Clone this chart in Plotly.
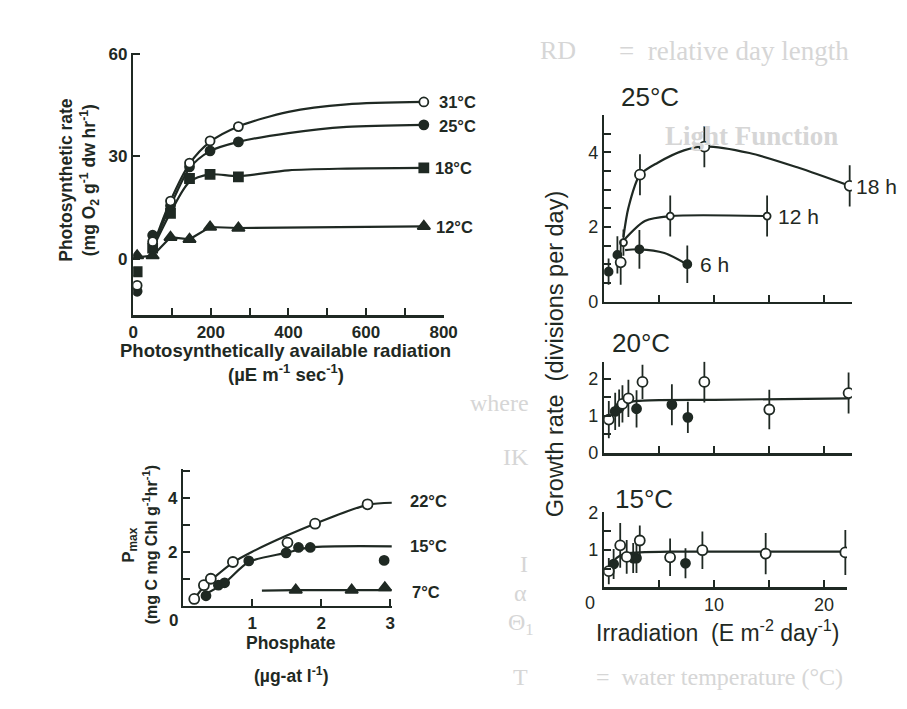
import plotly.graph_objects as go

W, H = 907, 709
INK = '#1f2923'
GHOST = '#d6d6d6'
FONT = 'Liberation Sans'

# ---------------- Panel A: photosynthesis vs radiation ----------------
A_x = [10, 50, 96, 145, 198, 271, 749]
A_31 = [-7.8, 5.0, 16.9, 28.0, 34.5, 38.7, 45.9]
A_25 = [-9.5, 6.9, 15.5, 26.9, 31.6, 34.2, 39.2]
A_18 = [-3.8, 3.1, 13.3, 23.5, 24.7, 24.0, 26.6]
A_12 = [0.9, 0.9, 6.3, 5.7, 9.3, 9.0, 9.5]
A_fit_x = [50, 96, 145, 198, 271, 400, 550, 749]
A_fit_31 = [3.5, 17.0, 27.8, 34.2, 38.7, 43.0, 45.2, 45.9]
A_fit_25 = [3.5, 15.5, 26.5, 31.5, 34.2, 36.8, 38.6, 39.2]
A_fit_18 = [3.0, 13.5, 22.5, 24.7, 24.2, 25.9, 26.4, 26.6]
A_fit12_x = [0, 50, 96, 145, 198, 271, 749]
A_fit_12 = [0.3, 0.9, 6.3, 5.7, 9.3, 9.0, 9.5]
A_xticks = [0, 200, 400, 600, 800]
A_xminor = [100, 300, 500, 700]
A_yticks = [0, 30, 60]

# ---------------- Panel B: Pmax vs phosphate ----------------
B22_x = [0.16, 0.30, 0.40, 0.72, 1.51, 1.91, 2.67]
B22_y = [0.25, 0.76, 1.00, 1.62, 2.34, 3.04, 3.76]
B15_x = [0.33, 0.51, 0.60, 0.95, 1.49, 1.67, 1.84, 2.91]
B15_y = [0.37, 0.76, 0.85, 1.66, 1.96, 2.16, 2.16, 1.68]
B7_x = [1.63, 2.44, 2.92]
B7_y = [0.58, 0.58, 0.67]
B22_fit_x = [0.16, 0.30, 0.45, 0.72, 1.0, 1.5, 1.91, 2.67, 3.1]
B22_fit_y = [0.25, 0.70, 1.05, 1.60, 2.00, 2.60, 3.04, 3.74, 3.82]
B15_fit_x = [0.30, 0.60, 0.95, 1.49, 1.84, 3.1]
B15_fit_y = [0.40, 0.85, 1.62, 1.96, 2.16, 2.20]
B7_fit_x = [1.14, 1.63, 2.44, 2.92, 3.1]
B7_fit_y = [0.56, 0.58, 0.58, 0.60, 0.58]

# ---------------- Panel C: growth at 25 C ----------------
C18_x = [1.5, 3.25, 9.1, 22.3]
C18_y = [1.05, 3.4, 4.15, 3.1]
C18_e = [0.6, 0.55, 0.55, 0.55]
C12_x = [1.75, 6.0, 14.8]
C12_y = [1.58, 2.29, 2.29]
C12_e = [0.35, 0.55, 0.55]
C6_x = [0.4, 1.2, 3.2, 7.55]
C6_y = [0.8, 1.25, 1.4, 1.0]
C6_e = [0.35, 0.5, 0.52, 0.5]
C18_fit_x = [1.75, 2.2, 3.24, 4.87, 7.25, 9.09, 13.2, 17.6, 22.3]
C18_fit_y = [1.73, 2.51, 3.39, 3.72, 4.05, 4.16, 3.98, 3.59, 3.10]
C12_fit_x = [1.8, 3.7, 6.0, 14.8]
C12_fit_y = [1.65, 2.16, 2.29, 2.29]
C6_fit_x = [1.9, 3.18, 5.47, 7.55]
C6_fit_y = [1.38, 1.40, 1.30, 0.99]

# ---------------- Panel D: growth at 20 C ----------------
D_open_x = [0.42, 1.66, 2.2, 3.48, 9.1, 15.0, 22.2]
D_open_y = [0.90, 1.32, 1.47, 1.91, 1.91, 1.17, 1.61]
D_open_e = [0.5, 0.5, 0.5, 0.46, 0.55, 0.53, 0.55]
D_fill_x = [1.0, 1.36, 2.94, 6.15, 7.6]
D_fill_y = [1.12, 1.21, 1.19, 1.30, 0.96]
D_fill_e = [0.5, 0.5, 0.5, 0.55, 0.42]
D_fit_x = [0.42, 1.0, 1.66, 2.2, 2.94, 3.5, 5.0, 10.0, 22.3]
D_fit_y = [0.85, 1.10, 1.28, 1.37, 1.40, 1.41, 1.42, 1.43, 1.47]

# ---------------- Panel E: growth at 15 C ----------------
E_open_x = [0.42, 1.46, 2.05, 3.24, 6.0, 8.94, 14.7, 21.95]
E_open_y = [0.43, 1.12, 0.81, 1.25, 0.80, 0.99, 0.90, 0.93]
E_open_e = [0.35, 0.6, 0.45, 0.4, 0.5, 0.5, 0.55, 0.6]
E_fill_x = [0.86, 2.64, 2.94, 7.4]
E_fill_y = [0.62, 0.78, 0.78, 0.64]
E_fill_e = [0.4, 0.4, 0.4, 0.4]
E_fit_x = [0.42, 0.86, 1.46, 2.05, 3.24, 6.0, 22.0]
E_fit_y = [0.42, 0.70, 0.85, 0.90, 0.93, 0.95, 0.95]

fig = go.Figure()

def line(x, y, ax, shape='spline'):
    fig.add_trace(go.Scatter(x=x, y=y, mode='lines', xaxis=ax[0], yaxis=ax[1],
                             line=dict(color=INK, width=2.2, shape=shape, smoothing=0.8),
                             hoverinfo='skip', showlegend=False))

def pts(x, y, ax, symbol='circle', filled=True, size=9, err=None):
    kw = {}
    if err is not None:
        kw['error_y'] = dict(type='data', array=err, visible=True, color=INK, thickness=1.8, width=0)
    fig.add_trace(go.Scatter(x=x, y=y, mode='markers', xaxis=ax[0], yaxis=ax[1],
                             marker=dict(symbol=symbol, size=size,
                                         color=INK if filled else 'white',
                                         line=dict(color=INK, width=1.8)),
                             showlegend=False, **kw))

# Panel A
axA = ('x', 'y')
line(A_fit_x, A_fit_31, axA)
line(A_fit_x, A_fit_25, axA)
line(A_fit_x, A_fit_18, axA)
line(A_fit12_x, A_fit_12, axA, shape='linear')
pts(A_x, A_12, axA, 'triangle-up', True, 11)
pts(A_x, A_18, axA, 'square', True, 9)
pts(A_x, A_25, axA, 'circle', True, 9)
pts(A_x, A_31, axA, 'circle', False, 9)

# Panel B
axB = ('x2', 'y2')
line(B22_fit_x, B22_fit_y, axB)
line(B15_fit_x, B15_fit_y, axB)
line(B7_fit_x, B7_fit_y, axB, shape='linear')
pts(B7_x, B7_y, axB, 'triangle-up', True, 11)
pts(B15_x, B15_y, axB, 'circle', True, 9)
pts(B22_x, B22_y, axB, 'circle', False, 10)

# Panel C
axC = ('x3', 'y3')
line(C18_fit_x, C18_fit_y, axC)
line(C12_fit_x, C12_fit_y, axC)
line(C6_fit_x, C6_fit_y, axC)
pts(C6_x, C6_y, axC, 'circle', True, 8, C6_e)
pts(C12_x, C12_y, axC, 'circle', False, 7, C12_e)
pts(C18_x, C18_y, axC, 'circle', False, 10, C18_e)

# Panel D
axD = ('x4', 'y4')
line(D_fit_x, D_fit_y, axD)
pts(D_fill_x, D_fill_y, axD, 'circle', True, 9, D_fill_e)
pts(D_open_x, D_open_y, axD, 'circle', False, 10, D_open_e)

# Panel E
axE = ('x5', 'y5')
line(E_fit_x, E_fit_y, axE)
pts(E_fill_x, E_fill_y, axE, 'circle', True, 9, E_fill_e)
pts(E_open_x, E_open_y, axE, 'circle', False, 10, E_open_e)


def dom_x(a, b):
    return [a / W, b / W]

def dom_y(top, bottom):
    return [1 - bottom / H, 1 - top / H]

def axis(domain, rng, anchor, tickvals=None, ticktext=None, minor=None, labels=True, size=16, bold=False):
    d = dict(domain=domain, range=rng, anchor=anchor, showline=True, linecolor=INK, linewidth=2.4,
             showgrid=False, zeroline=False, ticks='inside', ticklen=7, tickwidth=2, tickcolor=INK,
             showticklabels=labels, tickfont=dict(family=FONT, size=size, color=INK,
                                                  weight='bold' if bold else 'normal'),
             fixedrange=True)
    if tickvals is not None:
        d['tickmode'] = 'array'
        d['tickvals'] = tickvals
        if ticktext is not None:
            d['ticktext'] = ticktext
    if minor is not None:
        d['minor'] = dict(tickvals=minor, ticks='inside', ticklen=7, tickwidth=2, tickcolor=INK)
    return d

layout = dict(
    width=W, height=H, autosize=False,
    margin=dict(l=0, r=0, t=0, b=0),
    paper_bgcolor='white', plot_bgcolor='rgba(0,0,0,0)',
    showlegend=False,
    # Panel A
    xaxis=axis(dom_x(131, 448), [0, 800], 'y', A_xticks, None, A_xminor, size=17, bold=True),
    yaxis=axis(dom_y(44, 314), [-16.5, 60.3], 'x', A_yticks, size=17, bold=True),
    # Panel B
    xaxis2=axis(dom_x(182, 395), [0, 3.02], 'y2', [1, 2, 3], size=17, bold=True),
    yaxis2=axis(dom_y(472, 613), [0, 5.08], 'x2', [2, 4], None, [1, 3, 5], size=17, bold=True),
    # Panel C
    xaxis3=axis(dom_x(612, 865), [0, 22.5], 'y3', [5, 10, 15, 20], labels=False),
    yaxis3=axis(dom_y(108, 300), [0, 5], 'x3', [0, 2, 4], None,
                [0.5, 1, 1.5, 2.5, 3, 3.5, 4.5, 5], size=18),
    # Panel D
    xaxis4=axis(dom_x(612, 865), [0, 22.5], 'y4', [5, 10, 15, 20], labels=False),
    yaxis4=axis(dom_y(362, 456), [0, 2.45], 'x4', [0, 1, 2], None, [0.5, 1.5], size=18),
    # Panel E
    xaxis5=axis(dom_x(612, 860), [0, 22.1], 'y5', [5, 10, 15, 20], ['', '10', '', '20'], size=18),
    yaxis5=axis(dom_y(517, 594), [0, 2], 'x5', [1, 2], None, [0.5, 1.5], size=18),
)
fig.update_layout(**layout)

anns = []

def ann(text, x, y, size=16, bold=False, xanchor='center', angle=0, color=INK, family=FONT):
    anns.append(dict(text=text, x=x / W, y=1 - y / H, xref='paper', yref='paper',
                     xanchor=xanchor, yanchor='middle', showarrow=False, textangle=angle,
                     font=dict(family=family, size=size, color=color,
                               weight='bold' if bold else 'normal')))

# faint bleed-through text from the page behind (only where it is clear of the chart text)
GF = 'Liberation Serif'
ann('RD', 565, 42, 26, color=GHOST, family=GF)
ann('=  relative day length', 745, 42, 27, color=GHOST, family=GF)
ann('Light Function', 762, 130, 27, True, color=GHOST, family=GF)
ann('where', 505, 404, 24, color=GHOST, family=GF)
ann('IK', 522, 460, 24, color=GHOST, family=GF)
ann('I', 530, 570, 24, color=GHOST, family=GF)
ann('α', 527, 600, 24, color=GHOST, family=GF)
ann('Θ<sub>1</sub>', 527, 632, 24, color=GHOST, family=GF)
ann('T', 527, 686, 24, color=GHOST, family=GF)
ann('=  water temperature (°C)', 730, 686, 24, color=GHOST, family=GF)

# Panel A texts
ann('Photosynthetic rate', 62, 175, 17.5, True, angle=-90)
ann('(mg O<sub>2</sub> g<sup>-1</sup> dw hr<sup>-1</sup>)', 86, 175, 17.5, True, angle=-90)
ann('Photosynthetically available radiation', 286, 350, 18.5, True)
ann('(µE m<sup>-1</sup> sec<sup>-1</sup>)', 287, 374, 18.5, True)
ann('31°C', 441, 95, 16.5, True, 'left')
ann('25°C', 441, 119, 16.5, True, 'left')
ann('18°C', 437, 163, 16.5, True, 'left')
ann('12°C', 438, 223, 16.5, True, 'left')

# Panel B texts
ann('P<sub>max</sub>', 128, 550, 17, True, angle=-90)
ann('(mg C mg Chl g<sup>-1</sup>hr<sup>-1</sup>)', 149, 550, 16, True, angle=-90)
ann('0', 172, 628, 17, True)
ann('Phosphate', 292, 651, 17.5, True)
ann('(µg-at l<sup>-1</sup>)', 292, 684, 17.5, True)
ann('22°C', 412, 505, 16.5, True, 'left')
ann('15°C', 412, 552, 16.5, True, 'left')
ann('7°C', 414, 599, 16.5, True, 'left')

# Right panels texts
ann('25°C', 659, 90, 26)
ann('20°C', 650, 343, 26)
ann('15°C', 653, 503, 26)
ann('18 h', 867, 182, 21, xanchor='left')
ann('12 h', 787, 213, 21, xanchor='left')
ann('6 h', 708, 262, 21, xanchor='left')
ann('Growth rate  (divisions per day)', 562, 354, 23.5, angle=-90)
ann('0', 598, 610, 18)
ann('Irradiation  (E m<sup>-2</sup> day<sup>-1</sup>)', 728, 639, 23)

fig.update_layout(annotations=anns)
fig.write_html('out.html',
               config={'displayModeBar': False, 'staticPlot': True},
               post_script="document.body.style.margin='0';"
                           "document.body.style.overflow='hidden';"
                           "document.documentElement.style.overflow='hidden';")
